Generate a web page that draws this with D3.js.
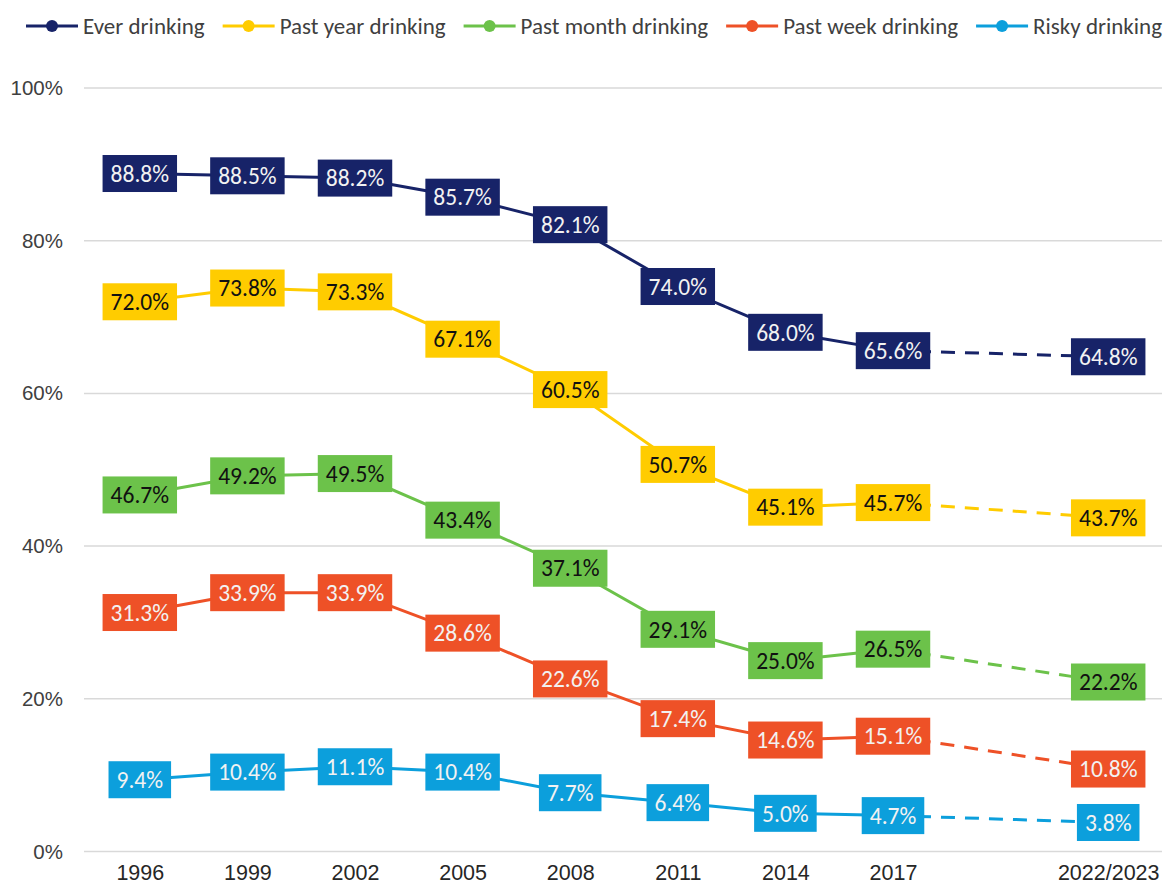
<!DOCTYPE html>
<html>
<head>
<meta charset="utf-8">
<script src="https://cdn.jsdelivr.net/npm/d3@7"></script>
<style>
  body { margin: 0; background: #fff; }
  svg { font-family: Carlito, "Liberation Sans", Arial, sans-serif; }
</style>
</head>
<body>
<div class="chart"></div>
<script>
const years = ["1996", "1999", "2002", "2005", "2008", "2011", "2014", "2017", "", "2022/2023"];
const yTicks = [0, 20, 40, 60, 80, 100];

const everDrinking     = [88.8, 88.5, 88.2, 85.7, 82.1, 74.0, 68.0, 65.6, null, 64.8];
const pastYear         = [72.0, 73.8, 73.3, 67.1, 60.5, 50.7, 45.1, 45.7, null, 43.7];
const pastMonth        = [46.7, 49.2, 49.5, 43.4, 37.1, 29.1, 25.0, 26.5, null, 22.2];
const pastWeek         = [31.3, 33.9, 33.9, 28.6, 22.6, 17.4, 14.6, 15.1, null, 10.8];
const riskyDrinking    = [9.4, 10.4, 11.1, 10.4, 7.7, 6.4, 5.0, 4.7, null, 3.8];

const seriesNames = ["Ever drinking", "Past year drinking", "Past month drinking", "Past week drinking", "Risky drinking"];
const seriesValues = [everDrinking, pastYear, pastMonth, pastWeek, riskyDrinking];
const seriesColors = ["#172368", "#FFCC00", "#6CC24A", "#EE5127", "#0C9FDC"];
const labelColors = ["#f2f2f2", "#111111", "#111111", "#f2f2f2", "#f2f2f2"];

const width = 1166;
const height = 888;

const svg = d3.select(".chart")
    .append("svg")
    .attr("width", width)
    .attr("height", height);

const x = d3.scalePoint()
    .domain(years.map((d, i) => i))
    .range([86, 1162])
    .padding(0.5);

const y = d3.scaleLinear()
    .domain([0, 100])
    .range([851.5, 88]);

// gridlines
svg.append("g")
    .selectAll("line")
    .data(yTicks)
    .enter()
    .append("line")
    .attr("x1", 84)
    .attr("x2", 1162)
    .attr("y1", d => y(d))
    .attr("y2", d => y(d))
    .attr("stroke", "#d9d9d9")
    .attr("stroke-width", 1.5);

// y axis
const yAxis = svg.append("g")
    .attr("transform", "translate(63,0)")
    .call(d3.axisLeft(y).tickValues(yTicks).tickSize(0).tickFormat(d => d + "%"));
yAxis.select(".domain").remove();
yAxis.selectAll("text")
    .attr("x", 0)
    .attr("font-size", 20.5)
    .attr("font-family", null)
    .attr("fill", "#404040");

// x axis
const xAxis = svg.append("g")
    .attr("transform", "translate(0,862)")
    .call(d3.axisBottom(x).tickSize(0).tickFormat(i => years[i]));
xAxis.select(".domain").remove();
xAxis.selectAll("text")
    .attr("font-size", 21.5)
    .attr("font-family", null)
    .attr("fill", "#262626");

// lines
seriesValues.forEach((vals, s) => {
    const pts = vals.map((v, i) => ({ i, v })).filter(d => d.v !== null);
    const solid = pts.filter(d => d.i <= 7);
    const dashed = [pts.find(d => d.i === 7), pts.find(d => d.i === 9)];
    const line = d3.line().x(d => x(d.i)).y(d => y(d.v));

    svg.append("path")
        .datum(solid)
        .attr("d", line)
        .attr("fill", "none")
        .attr("stroke", seriesColors[s])
        .attr("stroke-width", 3);

    svg.append("path")
        .datum(dashed)
        .attr("d", line)
        .attr("fill", "none")
        .attr("stroke", seriesColors[s])
        .attr("stroke-width", 3)
        .attr("stroke-dasharray", "14,10");
});

// labels
seriesValues.forEach((vals, s) => {
    const pts = vals.map((v, i) => ({ i, v })).filter(d => d.v !== null);
    const g = svg.append("g");
    pts.forEach(d => {
        const lg = g.append("g").attr("transform", `translate(${x(d.i)},${y(d.v)})`);
        const rect = lg.append("rect").attr("fill", seriesColors[s]);
        const txt = lg.append("text")
            .attr("text-anchor", "middle")
            .attr("dy", "0.35em")
            .attr("font-size", 23.5)
            .attr("fill", labelColors[s])
            .text(d.v.toFixed(1) + "%");
        const w = txt.node().getComputedTextLength() + 16;
        rect.attr("x", -w / 2).attr("y", -18.5).attr("width", w).attr("height", 37);
    });
});

// legend
const legend = svg.append("g").attr("transform", "translate(26,26)");
let lx = 0;
seriesNames.forEach((name, s) => {
    const item = legend.append("g").attr("transform", `translate(${lx},0)`);
    item.append("line")
        .attr("x1", 0).attr("x2", 52)
        .attr("stroke", seriesColors[s])
        .attr("stroke-width", 3);
    item.append("circle")
        .attr("cx", 26).attr("r", 6)
        .attr("fill", seriesColors[s]);
    const t = item.append("text")
        .attr("x", 57)
        .attr("dy", "0.35em")
        .attr("font-size", 23)
        .attr("fill", "#404040")
        .text(name);
    lx += 57 + t.node().getComputedTextLength() + 18;
});
</script>
</body>
</html>
